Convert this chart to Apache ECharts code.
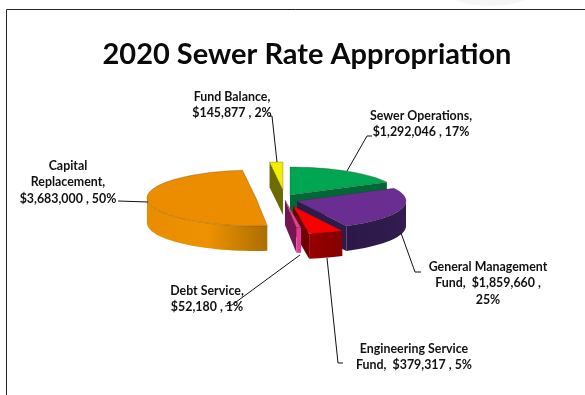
<!DOCTYPE html>
<html>
<head>
<meta charset="utf-8">
<style>html,body{margin:0;padding:0;background:#fff}#chart{width:585px;height:395px}</style>
<script src="https://cdn.jsdelivr.net/npm/echarts@6/dist/echarts.min.js"></script>
</head>
<body>
<div id="chart"></div>
<script>
// Appropriation amounts, in pie order (clockwise from twelve o'clock)
const categories = ['Sewer Operations', 'General Management Fund', 'Engineering Service Fund', 'Debt Service', 'Capital Replacement', 'Fund Balance'];
const amounts = [1292046, 1859660, 379317, 52180, 3683000, 145877];

// Label wording with its line breaks; {v} and {p} are filled from the amounts
const labelTemplates = [
  'Sewer Operations,\n{v} , {p}',
  'General Management\nFund,  {v} ,\n{p}',
  'Engineering Service\nFund,  {v} , {p}',
  'Debt Service,\n{v} , {p}',
  'Capital\nReplacement,\n{v} , {p}',
  'Fund Balance,\n{v} , {p}'
];

// Pie projection
const RX = 109, RY = 28, DEPTH = 25;
const sliceCentres = [[290, 195], [297, 201], [293, 206], [285, 200], [256, 198], [283, 190]];
const paintOrder = [4, 0, 5, 1, 2, 3];
const sliceColours = [
  { top: '#00a651', cut: '#006837', wall: ['#006837', '#006837'] },
  { top: '#6a2d91', cut: '#2e1a4b', wall: ['#2c1848', '#321c50'] },
  { top: '#f60000', cut: '#6e0000', wall: ['#980000', '#840000'] },
  { top: '#e0409a', cut: '#761450', wall: ['#dd3d96', '#dd3d96'] },
  { top: '#ec8d00', cut: '#7a4a00', wall: ['#e98c00', '#ee9200', '#ad6e00'] },
  { top: '#f2ee00', cut: '#6b6b00', wall: ['#6b6b00', '#6b6b00'] }
];

// Label anchors and leader lines
const labelCentres = [[421, 124], [488, 283], [414, 357], [207, 299], [68, 182], [232, 105]];
const leaderLines = [
  [[372, 136], [367, 136], [347, 171]],
  [[421, 272], [415, 272], [401, 233]],
  [[343, 363], [338, 363], [327, 258]],
  [[225, 306], [232, 305], [300, 255]],
  [[118, 201], [148, 202]],
  [[269, 116], [272, 116], [277, 162]]
];

const total = amounts.reduce((a, b) => a + b, 0);
const money = v => '$' + v.toLocaleString('en-US');

function rimPoint(c, deg, drop) {
  const r = deg * Math.PI / 180;
  return [c[0] + RX * Math.sin(r), c[1] - RY * Math.cos(r) + (drop || 0)];
}
function arc(c, from, to, drop) {
  const pts = [];
  const steps = Math.max(2, Math.ceil((to - from) / 3));
  for (let i = 0; i <= steps; i++) pts.push(rimPoint(c, from + (to - from) * i / steps, drop));
  return pts;
}
function wallFill(stops) {
  return new echarts.graphic.LinearGradient(0, 0, 1, 0,
    stops.map((color, i) => ({ offset: i / (stops.length - 1), color })));
}

function renderSlice(params, api) {
  const i = params.dataIndex;
  const share = v => v / total * 360;
  let start = 0;
  for (let k = 0; k < i; k++) start += share(amounts[k]);
  const end = start + share(api.value(0));
  const c = sliceCentres[i], col = sliceColours[i];
  const base = paintOrder.indexOf(i) * 10;
  const edge = { stroke: 'rgba(60,40,20,0.45)', lineWidth: 0.6 };
  const children = [];

  // Radial cut faces turned towards the viewer
  const cutFace = deg => {
    const rim = rimPoint(c, deg);
    children.push({
      type: 'polygon', z2: base + 1,
      shape: { points: [c, rim, [rim[0], rim[1] + DEPTH], [c[0], c[1] + DEPTH]] },
      style: { fill: col.cut }
    });
  };
  if (Math.sin(start * Math.PI / 180) < -1e-6) cutFace(start);
  if (Math.sin(end * Math.PI / 180) > 1e-6) cutFace(end);

  // Outer wall along the front half of the rim
  const from = Math.max(start, 90), to = Math.min(end, 270);
  if (to > from) {
    children.push({
      type: 'polygon', z2: base + 2,
      shape: { points: arc(c, from, to).concat(arc(c, from, to, DEPTH).reverse()) },
      style: { fill: wallFill(col.wall) }
    });
  }

  // Top face
  children.push({
    type: 'polygon', z2: base + 3,
    shape: { points: [c].concat(arc(c, start, end)) },
    style: Object.assign({ fill: col.top }, edge)
  });

  // Leader line and label
  children.push({
    type: 'polyline', z2: 200,
    shape: { points: leaderLines[i] },
    style: { fill: null, stroke: '#111', lineWidth: 1 }
  });
  const pct = Math.round(api.value(0) / total * 100) + '%';
  children.push({
    type: 'text', z2: 210,
    style: {
      x: labelCentres[i][0], y: labelCentres[i][1],
      text: labelTemplates[i].replace('{v}', money(api.value(0))).replace('{p}', pct),
      align: 'center', verticalAlign: 'middle',
      font: 'bold 12.4px Lato, sans-serif', lineHeight: 16.5, fill: '#111'
    }
  });
  return { type: 'group', children };
}

const chart = echarts.init(document.getElementById('chart'), null, { renderer: 'canvas' });
chart.setOption({
  animation: false,
  backgroundColor: '#fff',
  title: {
    text: '2020 Sewer Rate Appropriation',
    left: 302, top: 35, textAlign: 'center',
    textStyle: { fontFamily: 'Lato, sans-serif', fontWeight: 'bold', fontSize: 29, color: '#0a0a0a' }
  },
  graphic: [{
    // Pale shape along the top edge of the page
    type: 'ellipse', silent: true, z: -1,
    shape: { cx: 490, cy: -8, rx: 42, ry: 14 },
    style: { fill: '#f6f6f6' }
  }, {
    type: 'polyline', silent: true,
    shape: { points: [[6.5, 395], [6.5, 9.5], [585, 9.5]] },
    style: { fill: null, stroke: '#222', lineWidth: 1 }
  }],
  series: [{
    type: 'custom',
    coordinateSystem: 'none',
    silent: true,
    renderItem: renderSlice,
    data: amounts.map((v, i) => ({ name: categories[i], value: [v] }))
  }]
});
</script>
</body>
</html>
